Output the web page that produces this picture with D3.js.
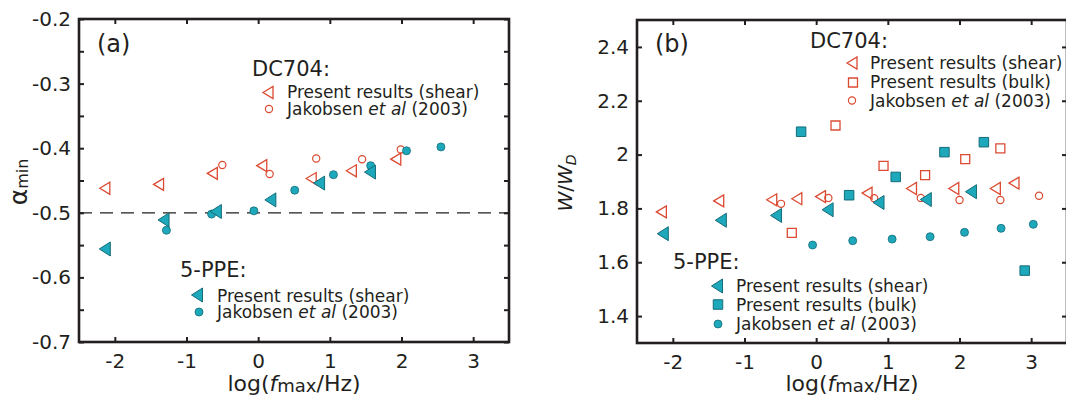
<!DOCTYPE html>
<html><head><meta charset="utf-8">
<script src="https://cdn.jsdelivr.net/npm/d3@7"></script>
<style>
html,body{margin:0;padding:0;background:#fff;}
svg{display:block;font-family:"DejaVu Sans",sans-serif;}
</style></head>
<body>
<svg id="chart" width="1066" height="405"></svg>
<script>
// ---------- data ----------
const xTicks = [-2, -1, 0, 1, 2, 3];
const xTickLabels = ["-2", "-1", "0", "1", "2", "3"];
const aTicks = [-0.7, -0.6, -0.5, -0.4, -0.3, -0.2];
const aTickLabels = ["-0.7", "-0.6", "-0.5", "-0.4", "-0.3", "-0.2"];
const aMinorTicks = [-0.7, -0.65, -0.6, -0.55, -0.5, -0.45, -0.4, -0.35, -0.3, -0.25, -0.2];
const bTicks = [1.4, 1.6, 1.8, 2.0, 2.2, 2.4];
const bTickLabels = ["1.4", "1.6", "1.8", "2", "2.2", "2.4"];

// panel (a): alpha_min
const aDcShearX = [-2.14, -1.39, -0.64, 0.05, 0.74, 1.30, 1.92];
const aDcShearY = [-0.462, -0.456, -0.439, -0.427, -0.447, -0.435, -0.417];
const aDcJakX = [-0.50, 0.16, 0.81, 1.45, 1.99];
const aDcJakY = [-0.426, -0.440, -0.416, -0.417, -0.402];
const aPpeShearX = [-2.14, -1.32, -0.59, 0.17, 0.85, 1.56];
const aPpeShearY = [-0.556, -0.511, -0.498, -0.480, -0.454, -0.437];
const aPpeJakX = [-1.28, -0.65, -0.06, 0.51, 1.05, 1.57, 2.07, 2.55];
const aPpeJakY = [-0.527, -0.502, -0.497, -0.465, -0.441, -0.427, -0.404, -0.398];
const aRefLine = -0.5;

// panel (b): W/W_D
const bDcShearX = [-2.16, -1.36, -0.62, -0.27, 0.06, 0.71, 1.33, 1.92, 2.50, 2.76];
const bDcShearY = [1.787, 1.828, 1.832, 1.836, 1.844, 1.857, 1.874, 1.874, 1.874, 1.894];
const bDcBulkX = [-0.34, 0.27, 0.94, 1.52, 2.08, 2.57];
const bDcBulkY = [1.709, 2.108, 1.958, 1.924, 1.983, 2.023];
const bDcJakX = [-0.49, 0.17, 0.81, 1.46, 2.00, 2.57, 3.11];
const bDcJakY = [1.817, 1.839, 1.838, 1.839, 1.831, 1.831, 1.847];
const bPpeShearX = [-2.14, -1.33, -0.56, 0.16, 0.87, 1.53, 2.16];
const bPpeShearY = [1.706, 1.756, 1.774, 1.795, 1.822, 1.833, 1.862];
const bPpeBulkX = [-0.21, 0.46, 1.11, 1.79, 2.34, 2.91];
const bPpeBulkY = [2.085, 1.849, 1.917, 2.009, 2.046, 1.569];
const bPpeJakX = [-0.05, 0.51, 1.06, 1.59, 2.07, 2.58, 3.03];
const bPpeJakY = [1.664, 1.680, 1.686, 1.695, 1.711, 1.726, 1.741];

const legendDC = ["Present results (shear)", "Jakobsen", "Present results (bulk)"];

// ---------- styles ----------
const INK = "#231f20";
const RED = "#dc4a32";
const TEAL = "#1ea8bb";
const TEAL_D = "#146c78";

const svg = d3.select("#chart");
const zip = (xs, ys) => xs.map((x, i) => [x, ys[i]]);

function triLeft(w, h) {
  return `M${-w/2},0L${w/2},${-h/2}L${w/2},${h/2}Z`;
}
function sq(s) { return `M${-s/2},${-s/2}h${s}v${s}h${-s}Z`; }

const markers = {
  openTri: g => g.append("path").attr("d", triLeft(10, 12)).attr("fill", "none").attr("stroke", RED).attr("stroke-width", 1.3),
  fillTri: g => g.append("path").attr("d", triLeft(11, 14)).attr("fill", TEAL).attr("stroke", TEAL_D).attr("stroke-width", 1),
  openCirc: g => g.append("circle").attr("r", 3.6).attr("fill", "none").attr("stroke", RED).attr("stroke-width", 1.2),
  fillCirc: g => g.append("circle").attr("r", 4).attr("fill", TEAL).attr("stroke", TEAL_D).attr("stroke-width", 0.8),
  openSq: g => g.append("path").attr("d", sq(9)).attr("fill", "none").attr("stroke", RED).attr("stroke-width", 1.3),
  fillSq: g => g.append("path").attr("d", sq(9.5)).attr("fill", TEAL).attr("stroke", TEAL_D).attr("stroke-width", 1),
};

function plotSeries(g, x, y, pts, kind) {
  g.append("g").selectAll("g").data(pts).join("g")
    .attr("transform", d => `translate(${x(d[0])},${y(d[1])})`)
    .each(function () { markers[kind](d3.select(this)); });
}

function legendItem(g, mx, my, kind, tx, ty, parts) {
  markers[kind](g.append("g").attr("transform", `translate(${mx},${my})`));
  const t = g.append("text").attr("x", tx).attr("y", ty).attr("font-size", 17).attr("fill", INK);
  parts.forEach(p => {
    const s = t.append("tspan").text(p[0]);
    if (p[1]) s.attr("font-style", "italic");
  });
}

function panel(opts) {
  const {x0, x1, y0, y1, ydom, yTicks, yLabels, yMinor} = opts;
  const x = d3.scaleLinear().domain([-2.5, 3.5]).range([x0, x1]);
  const y = d3.scaleLinear().domain(ydom).range([y1, y0]);
  const g = svg.append("g");

  const styleAxis = (sel) => {
    sel.select(".domain").remove();
    sel.selectAll(".tick line").attr("stroke", INK).attr("stroke-width", 2);
    sel.selectAll(".tick text").attr("fill", INK).attr("font-size", 20).attr("font-family", "DejaVu Sans");
  };

  g.append("g").attr("transform", `translate(0,${y1})`)
    .call(d3.axisBottom(x).tickValues(xTicks).tickSize(-5).tickPadding(12)
      .tickFormat((d, i) => xTickLabels[i]))
    .call(styleAxis);
  g.append("g").attr("transform", `translate(0,${y0})`)
    .call(d3.axisTop(x).tickValues(xTicks).tickSize(-5).tickFormat(""))
    .call(styleAxis);
  g.append("g").attr("transform", `translate(${x0},0)`)
    .call(d3.axisLeft(y).tickValues(yMinor).tickSize(-5).tickFormat(""))
    .call(styleAxis);
  g.append("g").attr("transform", `translate(${x0},0)`)
    .call(d3.axisLeft(y).tickValues(yTicks).tickSize(0).tickPadding(8)
      .tickFormat((d, i) => yLabels[i]))
    .call(styleAxis);
  g.append("g").attr("transform", `translate(${x1},0)`)
    .call(d3.axisRight(y).tickValues(yMinor).tickSize(-5).tickFormat(""))
    .call(styleAxis);

  g.append("rect").attr("x", x0).attr("y", y0).attr("width", x1 - x0).attr("height", y1 - y0)
    .attr("fill", "none").attr("stroke", INK).attr("stroke-width", 2.6);

  // x label
  const xl = g.append("text").attr("x", (x0 + x1) / 2).attr("y", 391)
    .attr("text-anchor", "middle").attr("font-size", 22).attr("fill", INK);
  xl.append("tspan").text("log(");
  xl.append("tspan").attr("font-style", "italic").text("f");
  xl.append("tspan").attr("font-size", 18).attr("dy", 1).text("max");
  xl.append("tspan").attr("dy", -1).text("/Hz)");

  return {g, x, y};
}

// ---------- panel (a) ----------
const A = panel({x0: 79, x1: 509, y0: 19, y1: 342, ydom: [-0.7, -0.2],
  yTicks: aTicks, yLabels: aTickLabels, yMinor: aMinorTicks});

A.g.append("line").attr("x1", A.x(-2.5)).attr("x2", A.x(3.5))
  .attr("y1", A.y(aRefLine)).attr("y2", A.y(aRefLine))
  .attr("stroke", INK).attr("stroke-width", 1.3).attr("stroke-dasharray", "13,8");

plotSeries(A.g, A.x, A.y, zip(aDcShearX, aDcShearY), "openTri");
plotSeries(A.g, A.x, A.y, zip(aDcJakX, aDcJakY), "openCirc");
plotSeries(A.g, A.x, A.y, zip(aPpeJakX, aPpeJakY), "fillCirc");
plotSeries(A.g, A.x, A.y, zip(aPpeShearX, aPpeShearY), "fillTri");

A.g.append("text").attr("x", 97).attr("y", 52).attr("font-size", 24).attr("fill", INK).text("(a)");

const ay = A.g.append("text").attr("transform", "translate(27,182) rotate(-90)")
  .attr("text-anchor", "middle").attr("fill", INK);
ay.append("tspan").attr("font-size", 25).text("α");
ay.append("tspan").attr("font-size", 16).attr("dy", 1).text("min");

A.g.append("text").attr("x", 252).attr("y", 76).attr("font-size", 21).attr("fill", INK).text("DC704:");
legendItem(A.g, 268, 92.5, "openTri", 287, 98, [["Present results (shear)"]]);
legendItem(A.g, 269, 109, "openCirc", 287, 115, [["Jakobsen "], ["et al", true], [" (2003)"]]);
A.g.append("text").attr("x", 180).attr("y", 277).attr("font-size", 21).attr("fill", INK).text("5-PPE:");
legendItem(A.g, 197, 295, "fillTri", 217, 301.5, [["Present results (shear)"]]);
legendItem(A.g, 199, 312, "fillCirc", 217, 318, [["Jakobsen "], ["et al", true], [" (2003)"]]);

// ---------- panel (b) ----------
const B = panel({x0: 637, x1: 1067, y0: 20, y1: 343, ydom: [1.3, 2.5],
  yTicks: bTicks, yLabels: bTickLabels, yMinor: bTicks});

plotSeries(B.g, B.x, B.y, zip(bDcShearX, bDcShearY), "openTri");
plotSeries(B.g, B.x, B.y, zip(bDcBulkX, bDcBulkY), "openSq");
plotSeries(B.g, B.x, B.y, zip(bDcJakX, bDcJakY), "openCirc");
plotSeries(B.g, B.x, B.y, zip(bPpeJakX, bPpeJakY), "fillCirc");
plotSeries(B.g, B.x, B.y, zip(bPpeBulkX, bPpeBulkY), "fillSq");
plotSeries(B.g, B.x, B.y, zip(bPpeShearX, bPpeShearY), "fillTri");

B.g.append("text").attr("x", 655).attr("y", 52).attr("font-size", 24).attr("fill", INK).text("(b)");

const by = B.g.append("text").attr("transform", "translate(572,183) rotate(-90)")
  .attr("text-anchor", "middle").attr("fill", INK).attr("font-size", 20);
by.append("tspan").attr("font-style", "italic").text("W");
by.append("tspan").text("/");
by.append("tspan").attr("font-style", "italic").text("W");
by.append("tspan").attr("font-style", "italic").attr("font-size", 14).attr("dy", 4).text("D");

B.g.append("text").attr("x", 810).attr("y", 48).attr("font-size", 21).attr("fill", INK).text("DC704:");
legendItem(B.g, 852, 63, "openTri", 870, 69, [["Present results (shear)"]]);
legendItem(B.g, 853, 82.5, "openSq", 870, 88, [["Present results (bulk)"]]);
legendItem(B.g, 852, 100.5, "openCirc", 870, 107, [["Jakobsen "], ["et al", true], [" (2003)"]]);
B.g.append("text").attr("x", 673).attr("y", 269).attr("font-size", 21).attr("fill", INK).text("5-PPE:");
legendItem(B.g, 717, 286, "fillTri", 736, 292, [["Present results (shear)"]]);
legendItem(B.g, 718, 304.5, "fillSq", 736, 311, [["Present results (bulk)"]]);
legendItem(B.g, 718, 324, "fillCirc", 736, 329.5, [["Jakobsen "], ["et al", true], [" (2003)"]]);
</script>
</body></html>
